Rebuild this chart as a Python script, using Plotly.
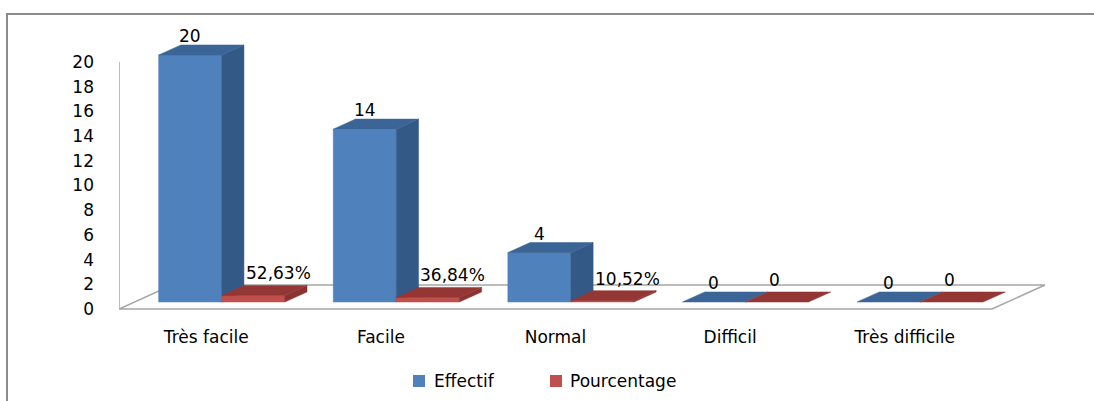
import plotly.graph_objects as go

# ---- data -------------------------------------------------------------
categories = ["Très facile", "Facile", "Normal", "Difficil", "Très difficile"]
effectif = [20, 14, 4, 0, 0]
pourcentage = [0.5263, 0.3684, 0.1052, 0, 0]
pourcentage_labels = ["52,63%", "36,84%", "10,52%", "0", "0"]
y_ticks = [0, 2, 4, 6, 8, 10, 12, 14, 16, 18, 20]
series_names = ["Effectif", "Pourcentage"]

# ---- pseudo-3D geometry (axis units) ----------------------------------
BAR_W = 0.361          # width of one column along x
DEPTH_X = 0.3036       # full floor depth projected on x
DEPTH_Y = 1.943        # full floor depth projected on y
BAR_D0, BAR_D1 = 0.29, 0.71   # column front/back as fraction of floor depth

BLUE = dict(front="#4F81BD", side="#335A87", top="#3C6597")
RED = dict(front="#C0504D", side="#8A3331", top="#943634")
GRID = "#A6A6A6"
FONT = "DejaVu Sans"
FS = 17

# page layout in pixels
W, H = 1094, 401
ML, MR, MT, MB = 119, 34, 20, 83
PW, PH = W - ML - MR, H - MT - MB


def px_x(px):
    return (px - ML) / PW


def px_y(py):
    return 1 - (py - MT) / PH


fig = go.Figure()


def poly(xs, ys, color):
    fig.add_trace(go.Scatter(
        x=xs + [xs[0]], y=ys + [ys[0]], mode="lines", fill="toself",
        fillcolor=color, line=dict(color=color, width=0.5),
        hoverinfo="skip", showlegend=False))


def column(x_left, value, colors):
    fx0, fy0 = BAR_D0 * DEPTH_X, BAR_D0 * DEPTH_Y
    bx, by = (BAR_D1 - BAR_D0) * DEPTH_X, (BAR_D1 - BAR_D0) * DEPTH_Y
    xl = x_left + fx0
    xr = xl + BAR_W
    yb = fy0
    yt = fy0 + value
    if value > 0:
        poly([xl, xr, xr, xl], [yb, yb, yt, yt], colors["front"])
        poly([xr, xr + bx, xr + bx, xr], [yb, yb + by, yt + by, yt], colors["side"])
    poly([xl, xr, xr + bx, xl + bx], [yt, yt, yt + by, yt + by], colors["top"])


# ---- floor --------------------------------------------------------------
n = len(categories)
fx = [-0.5, n - 0.5, n - 0.5 + DEPTH_X, -0.5 + DEPTH_X]
fy = [0, 0, DEPTH_Y, DEPTH_Y]
fig.add_trace(go.Scatter(x=fx + [fx[0]], y=fy + [fy[0]], mode="lines",
                         fill="toself", fillcolor="white",
                         line=dict(color=GRID, width=1.5),
                         hoverinfo="skip", showlegend=False))
fig.add_trace(go.Scatter(x=[-0.5, -0.5], y=[0, max(y_ticks)], mode="lines",
                         line=dict(color=GRID, width=1.5),
                         hoverinfo="skip", showlegend=False))

# ---- columns ----------------------------------------------------------------
for i in range(n):
    column(i - BAR_W, effectif[i], BLUE)
    column(i, pourcentage[i], RED)

# ---- value labels -------------------------------------------------------
annotations = []
for i in range(n):
    annotations.append(dict(
        x=i - BAR_W / 2 + BAR_D0 * DEPTH_X, y=effectif[i] + BAR_D1 * DEPTH_Y,
        text=str(effectif[i]), showarrow=False,
        xanchor="center", yanchor="bottom", yshift=-3,
        font=dict(family=FONT, size=FS, color="#000000")))
    annotations.append(dict(
        x=i + BAR_D0 * DEPTH_X, y=pourcentage[i] + BAR_D1 * DEPTH_Y,
        text=pourcentage_labels[i], showarrow=False,
        xanchor="left", yanchor="bottom", xshift=22, yshift=0,
        font=dict(family=FONT, size=FS, color="#000000")))

# ---- legend ---------------------------------------------------------------
shapes = []
legend_items = [(series_names[0], BLUE["front"], 413, 432),
                (series_names[1], RED["front"], 550, 568)]
for name, color, sq_x, tx_x in legend_items:
    shapes.append(dict(type="rect", xref="paper", yref="paper",
                       x0=px_x(sq_x), x1=px_x(sq_x + 12),
                       y0=px_y(387), y1=px_y(375),
                       fillcolor=color, line=dict(width=0)))
    annotations.append(dict(xref="paper", yref="paper", x=px_x(tx_x), y=px_y(381),
                            xanchor="left", yanchor="middle", text=name,
                            showarrow=False,
                            font=dict(family=FONT, size=FS, color="#000000")))

# ---- outer frame ------------------------------------------------------------
shapes.append(dict(type="rect", xref="paper", yref="paper",
                   x0=px_x(7), x1=px_x(1110), y0=px_y(410), y1=px_y(14),
                   line=dict(color="#8C8C8C", width=2), layer="below"))

fig.update_layout(
    width=W, height=H,
    margin=dict(l=ML, r=MR, t=MT, b=MB, autoexpand=False),
    paper_bgcolor="white", plot_bgcolor="white",
    font=dict(family=FONT, size=FS, color="#000000"),
    showlegend=False,
    hovermode=False,
    annotations=annotations,
    shapes=shapes,
    xaxis=dict(range=[-0.5, -0.5 + PW / 174.6], showgrid=False, zeroline=False,
               showline=False, tickvals=list(range(n)), ticktext=categories,
               ticks="", ticklabelstandoff=7,
               tickfont=dict(family=FONT, size=FS)),
    yaxis=dict(range=[-(MT + PH - 309) / 12.35, (309 - MT) / 12.35],
               showgrid=False, zeroline=False,
               showline=False, tickvals=y_ticks, ticks="",
               ticklabelstandoff=24, tickfont=dict(family=FONT, size=FS)),
)

fig.write_html("out.html")
